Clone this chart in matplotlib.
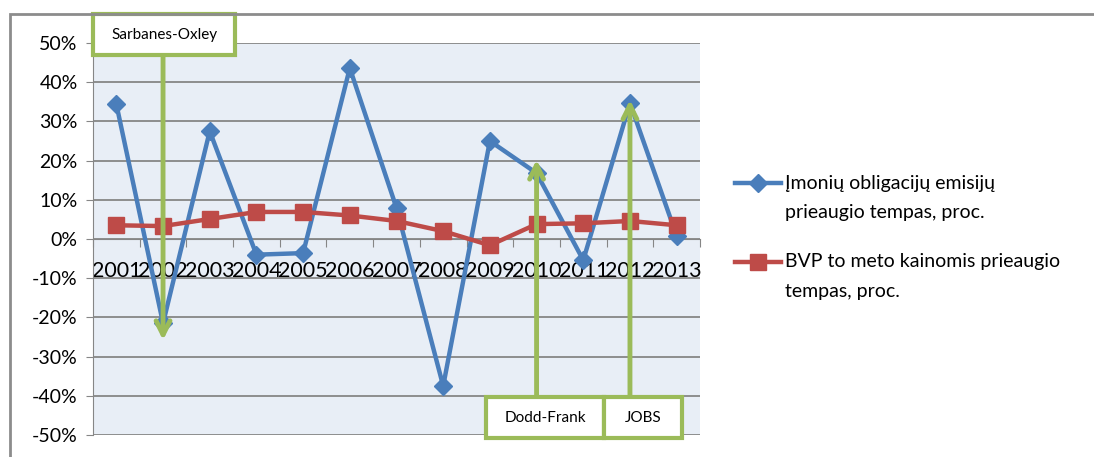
import matplotlib.pyplot as plt
import matplotlib.ticker as mticker
from matplotlib.patches import Rectangle
from matplotlib.lines import Line2D

# Data (percent)
years = ['2001', '2002', '2003', '2004', '2005', '2006', '2007',
         '2008', '2009', '2010', '2011', '2012', '2013']
bonds = [34.4, -21.5, 27.5, -4.0, -3.6, 43.6, 7.9,
         -37.5, 25.0, 16.8, -5.4, 34.7, 0.8]
gdp = [3.5, 3.3, 5.1, 6.9, 6.9, 6.0, 4.6,
       2.0, -1.6, 3.8, 4.0, 4.6, 3.5]
series_names = ['Įmonių obligacijų emisijų\nprieaugio tempas, proc.',
                'BVP to meto kainomis prieaugio\ntempas, proc.']
laws = ['Sarbanes-Oxley', 'Dodd-Frank', 'JOBS']
law_years = ['2002', '2010', '2012']

blue = '#4A7EBB'
red = '#BE4B48'
green = '#9BBB59'
grey = '#868686'

plt.rcParams['font.family'] = ['Lato', 'DejaVu Sans']

fig = plt.figure(figsize=(10.94, 4.57), dpi=100)

# outer chart frame (partly cropped in the reference)
fig.patches.append(Rectangle((10 / 1094, -0.2), 1.2, 1.2 - 14 / 457,
                             transform=fig.transFigure, fill=False,
                             edgecolor='#8C8C8C', lw=2))

ax = fig.add_axes([93 / 1094, 1 - 435 / 457, 607 / 1094, 392 / 457])
ax.set_facecolor('#E8EEF6')

x = list(range(len(years)))
ax.plot(x, bonds, color=blue, lw=3.2, marker='D', ms=9.5, zorder=3)
ax.plot(x, gdp, color=red, lw=3.2, marker='s', ms=11, zorder=3)

ax.set_xlim(-0.5, len(years) - 0.5)
ax.set_ylim(-50, 50)
ax.set_yticks(range(-50, 51, 10))
ax.yaxis.set_major_formatter(mticker.FuncFormatter(lambda v, p: f'{v:.0f}%'))
ax.grid(axis='y', color=grey, lw=1.3)
ax.set_axisbelow(True)

# category axis crosses at 0
ax.spines['bottom'].set_position(('data', 0))
ax.spines['bottom'].set_color(grey)
ax.spines['left'].set_color(grey)
ax.spines['top'].set_visible(False)
ax.spines['right'].set_visible(False)
ax.set_xticks([i - 0.5 for i in range(len(years) + 1)])
ax.set_xticklabels([])
ax.set_xticks(x, minor=True)
ax.set_xticklabels(years, minor=True, fontsize=15.5)
ax.tick_params(axis='x', which='major', length=6, color=grey, direction='out')
ax.tick_params(axis='x', which='minor', length=0, pad=16)
ax.tick_params(axis='y', length=5, color=grey, labelsize=14, pad=6)

# law annotations
boxes = [(-0.5, 2.55, 46.9, 57.4), (7.92, 10.45, -50.8, -40.3), (10.45, 12.12, -50.8, -40.3)]
tips = [-25.8, 20.2, 35.5]
for name, yr, (x0, x1, y0, y1), tip in zip(laws, law_years, boxes, tips):
    xi = years.index(yr)
    start = y0 if tip < y0 else y1
    ax.annotate('', xy=(xi, tip), xytext=(xi, start),
                arrowprops=dict(arrowstyle='->,head_length=1.0,head_width=0.5',
                                color=green, lw=3.5, shrinkA=0, shrinkB=0),
                zorder=5, annotation_clip=False)
    ax.add_patch(Rectangle((x0, y0), x1 - x0, y1 - y0, facecolor='white',
                           edgecolor=green, lw=3, clip_on=False, zorder=6))
    ax.text((x0 + x1) / 2, (y0 + y1) / 2, name, ha='center', va='center',
            fontsize=11, zorder=7)

# legend drawn by hand so the marker sits on the first text line
leg = [(blue, 'D', 9, 1 - 183 / 457), (red, 's', 11, 1 - 262 / 457)]
for (c, m, ms, yy), label in zip(leg, series_names):
    fig.add_artist(Line2D([735 / 1094, 781 / 1094], [yy, yy], color=c, lw=3.2,
                          transform=fig.transFigure))
    fig.add_artist(Line2D([758 / 1094], [yy], color=c, marker=m, ms=ms,
                          transform=fig.transFigure))
    for k, line in enumerate(label.split('\n')):
        fig.text(785 / 1094, yy - k * 30 / 457, line, va='center', ha='left',
                 fontsize=14)

fig.savefig('out.png', dpi=100)
